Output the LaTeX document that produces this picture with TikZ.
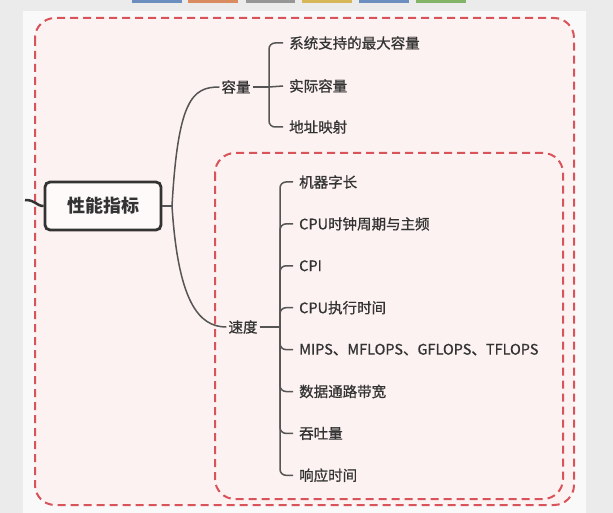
\documentclass[tikz,border=0pt]{standalone}
\usepackage{fontspec}
\setmainfont{Noto Sans CJK SC}
\newfontfamily\medfont[FakeBold=0.8]{Noto Sans CJK SC}
\usepackage{xcolor}
\usetikzlibrary{positioning, calc}
\definecolor{bggray}{HTML}{EBEBEB}
\definecolor{panel}{HTML}{F9F9F9}
\definecolor{pinkfill}{HTML}{FCF2F1}
\definecolor{dashred}{HTML}{D9535A}
\definecolor{inkdark}{HTML}{333333}
\definecolor{linkgray}{HTML}{555555}
\tikzset{
  rootbox/.style = {rectangle, rounded corners=5pt, draw=inkdark, line width=2.8pt,
                    fill=pinkfill!40, minimum width=116pt, minimum height=48pt,
                    font=\fontsize{18}{20}\selectfont\bfseries, text=inkdark},
  topic/.style   = {inner sep=2pt, font=\medfont\fontsize{14.5}{17}\selectfont, text=inkdark},
  leaf/.style    = {anchor=west, inner xsep=6pt, inner ysep=2pt,
                    font=\medfont\fontsize{14.5}{17}\selectfont, text=inkdark},
  zone/.style    = {draw=dashred, line width=2pt, dash pattern=on 8pt off 5pt,
                    rounded corners=20pt, fill=pinkfill},
  link/.style    = {draw=linkgray, line width=1.5pt},
  tab/.style     = {draw=none}
}
\begin{document}
\begin{tikzpicture}[x=1pt, y=-1pt]
  % page and panel
  \useasboundingbox (0,0) rectangle (613,513);
  \fill[bggray] (0,0) rectangle (613,513);
  \fill[panel] (23,11) rectangle (586,513);
  % toolbar tabs
  \fill[tab, fill={rgb,255:red,108;green,142;blue,191}] (132,0) rectangle (182,3);
  \fill[tab, fill={rgb,255:red,217;green,140;blue,95}]  (188,0) rectangle (238,3);
  \fill[tab, fill={rgb,255:red,150;green,150;blue,150}] (246,0) rectangle (295,3);
  \fill[tab, fill={rgb,255:red,214;green,182;blue,86}]  (302,0) rectangle (352,3);
  \fill[tab, fill={rgb,255:red,108;green,142;blue,191}] (359,0) rectangle (409,3);
  \fill[tab, fill={rgb,255:red,130;green,179;blue,102}] (416,0) rectangle (466,3);

  % dashed zones
  \draw[zone] (35,18) rectangle (574,505);
  \draw[zone] (215,153) rectangle (563,499);

  \node[rootbox] (perf) at (103,206) {性能指标};
  \node[topic]   (cap)  at (236,87)  {容量};
  \node[topic]   (spd)  at (243,327) {速度};

  \node[leaf] (c1) at (283,43) {系统支持的最大容量};
  \node[leaf] (c2) [below=43pt of c1.west, anchor=west] {实际容量};
  \node[leaf] (c3) [below=41pt of c2.west, anchor=west] {地址映射};

  \node[leaf] (s1) at (293,182) {机器字长};
  \node[leaf] (s2) [below=41.9pt of s1.west, anchor=west] {CPU时钟周期与主频};
  \node[leaf] (s3) [below=41.9pt of s2.west, anchor=west] {CPI};
  \node[leaf] (s4) [below=41.9pt of s3.west, anchor=west] {CPU执行时间};
  \node[leaf] (s5) [below=41.9pt of s4.west, anchor=west] {MIPS、MFLOPS、GFLOPS、TFLOPS};
  \node[leaf] (s6) [below=41.9pt of s5.west, anchor=west] {数据通路带宽};
  \node[leaf] (s7) [below=41.9pt of s6.west, anchor=west] {吞吐量};
  \node[leaf] (s8) [below=41.9pt of s7.west, anchor=west] {响应时间};

  \coordinate (in)  at (25,200);
  \coordinate (rj)  at (172,206);
  \coordinate (cj)  at (269,87);
  \coordinate (sj)  at (280,327);

  % incoming stub
  \draw[link, draw=inkdark, line width=2.5pt] (in) .. controls (36,200) and (36,206) .. (perf.west);
  % root to topics
  \draw[link] (perf.east) -- (rj);
  \draw[link] (rj) .. controls (178,100) and (192,87) .. (cap.west);
  \draw[link] (rj) .. controls (178,300) and (198,327) .. (spd.west);
  % capacity bracket
  \draw[link] (cap.east) -- (cj);
  \draw[link, rounded corners=6pt] (cj) |- (c1.west);
  \draw[link] (cj) -- (c2.west);
  \draw[link, rounded corners=6pt] (cj) |- (c3.west);
  % speed bracket
  \draw[link] (spd.east) -- (sj);
  \draw[link, rounded corners=6pt] (sj) |- (s1.west);
  \draw[link, rounded corners=6pt] (sj) |- (s2.west);
  \draw[link, rounded corners=6pt] (sj) |- (s3.west);
  \draw[link, rounded corners=6pt] (sj) |- (s4.west);
  \draw[link, rounded corners=6pt] (sj) |- (s5.west);
  \draw[link, rounded corners=6pt] (sj) |- (s6.west);
  \draw[link, rounded corners=6pt] (sj) |- (s7.west);
  \draw[link, rounded corners=6pt] (sj) |- (s8.west);
\end{tikzpicture}
\end{document}
